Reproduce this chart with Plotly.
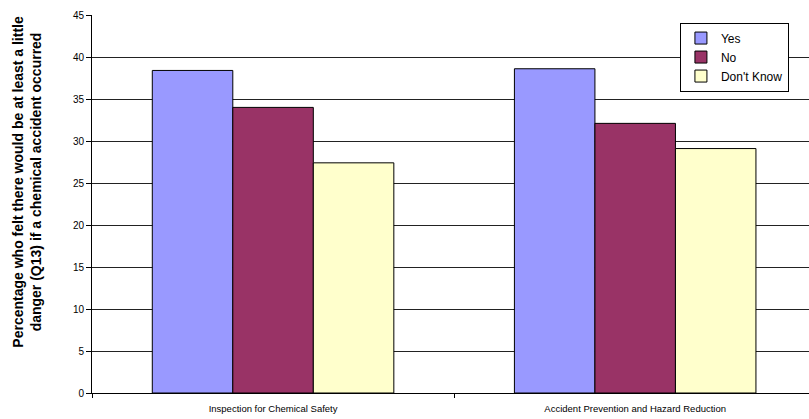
import plotly.graph_objects as go

# Survey programmes and the share of respondents (by answer) who felt
# there would be at least a little danger if a chemical accident occurred
categories = ["Inspection for Chemical Safety", "Accident Prevention and Hazard Reduction"]
yes_vals = [38.4, 38.6]
no_vals = [34.0, 32.1]
dont_know_vals = [27.4, 29.1]

series_names = ["Yes", "No", "Don't Know"]
series_colors = ["#9999FF", "#993366", "#FFFFCC"]
y_ticks = [0, 5, 10, 15, 20, 25, 30, 35, 40, 45]

fig = go.Figure()
for name, vals, color in zip(series_names, [yes_vals, no_vals, dont_know_vals], series_colors):
    fig.add_trace(go.Bar(
        name=name,
        x=categories,
        y=vals,
        marker=dict(color=color, line=dict(color="#000000", width=1)),
    ))

fig.update_layout(
    width=809,
    height=419,
    margin=dict(l=92, r=0, t=15, b=26),
    paper_bgcolor="white",
    plot_bgcolor="white",
    barmode="group",
    bargap=0.333,
    bargroupgap=0,
    font=dict(family="Liberation Sans, Arial, sans-serif", color="#000000"),
    showlegend=True,
    legend=dict(
        x=0.972, y=0.98, xanchor="right", yanchor="top",
        bgcolor="white", bordercolor="#000000", borderwidth=1,
        font=dict(size=12, family="Liberation Sans, Arial, sans-serif"),
        itemwidth=30,
    ),
    xaxis=dict(
        type="category",
        range=[-0.5, 1.48],
        showline=True, linecolor="#000000", linewidth=1,
        ticks="outside", tickson="boundaries", ticklen=4, tickcolor="#000000",
        tickfont=dict(size=9.5, family="Liberation Sans Narrow, Arial Narrow, Liberation Sans, sans-serif"),
        ticklabelstandoff=7,
        showgrid=False,
        zeroline=False,
    ),
    yaxis=dict(
        range=[0, 45],
        tickvals=y_ticks,
        showline=True, linecolor="#000000", linewidth=1,
        ticks="outside", ticklen=5, tickcolor="#000000",
        tickfont=dict(size=10, color="#000000"),
        showgrid=True, gridcolor="#222222", gridwidth=1,
        zeroline=False,
    ),
)

fig.add_annotation(
    text="<b>Percentage who felt there would be at least a little<br>danger (Q13) if a chemical accident occurred</b>",
    xref="paper", yref="paper",
    x=-0.0907, y=0.559,
    xanchor="center", yanchor="middle",
    textangle=-90,
    showarrow=False,
    font=dict(size=14, family="Liberation Sans, Arial, sans-serif", color="#000000"),
)

fig.write_html("out.html")
